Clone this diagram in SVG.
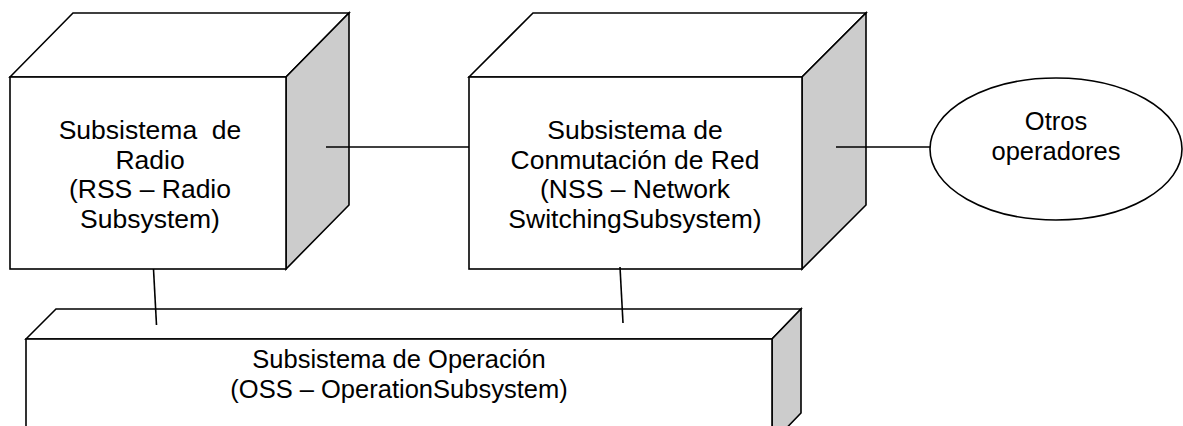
<svg xmlns="http://www.w3.org/2000/svg" width="1183" height="426" viewBox="0 0 1183 426">
<style>
.face{fill:#ffffff;stroke:#000000;stroke-width:1.6;stroke-linejoin:miter}
.side{fill:#cccccc;stroke:#000000;stroke-width:1.6}
.conn{stroke:#000000;stroke-width:1.6;fill:none}
text{font-family:"Liberation Sans",Arial,sans-serif;font-size:25.5px;fill:#000000;text-anchor:middle}
.big{font-size:26.5px}
.pre{white-space:pre}
</style>
<rect width="1183" height="426" fill="#ffffff"/>
<g id="oss">
<polygon class="face" points="26,339 56,309 801,309 772,339"/>
<polygon class="side" points="772,339 801,309 801,413 772,443"/>
<rect class="face" x="26" y="339" width="746" height="110"/>
<text x="399" y="368">Subsistema de Operación</text>
<text x="399" y="398">(OSS – OperationSubsystem)</text>
</g>
<g id="rss">
<polygon class="face" points="10,77 73,13 349,13 286,77"/>
<polygon class="side" points="286,77 349,13 349,205 286,269"/>
<rect class="face" x="10" y="77" width="276" height="192"/>
<text class="big pre" x="150" y="139" xml:space="preserve">Subsistema  de</text>
<text class="big" x="150" y="168.5">Radio</text>
<text class="big" x="150" y="198">(RSS – Radio</text>
<text class="big" x="150" y="227.5">Subsystem)</text>
</g>
<g id="nss">
<polygon class="face" points="469,77 533,13 866,13 802,77"/>
<polygon class="side" points="802,77 866,13 866,205 802,269"/>
<rect class="face" x="469" y="77" width="333" height="192"/>
<text class="big" x="635" y="139">Subsistema de</text>
<text class="big" x="635" y="168.5">Conmutación de Red</text>
<text class="big" x="635" y="198">(NSS – Network</text>
<text class="big" x="635" y="227.5">SwitchingSubsystem)</text>
</g>
<g id="otros">
<ellipse class="face" cx="1056" cy="149" rx="126" ry="71"/>
<text x="1056" y="130">Otros</text>
<text x="1056" y="160">operadores</text>
</g>
<g id="connectors">
<line class="conn" x1="326" y1="147" x2="469" y2="147"/>
<line class="conn" x1="836" y1="147" x2="930" y2="147"/>
<line class="conn" x1="153.5" y1="269" x2="156.5" y2="325"/>
<line class="conn" x1="620" y1="267" x2="623" y2="323"/>
</g>
</svg>
